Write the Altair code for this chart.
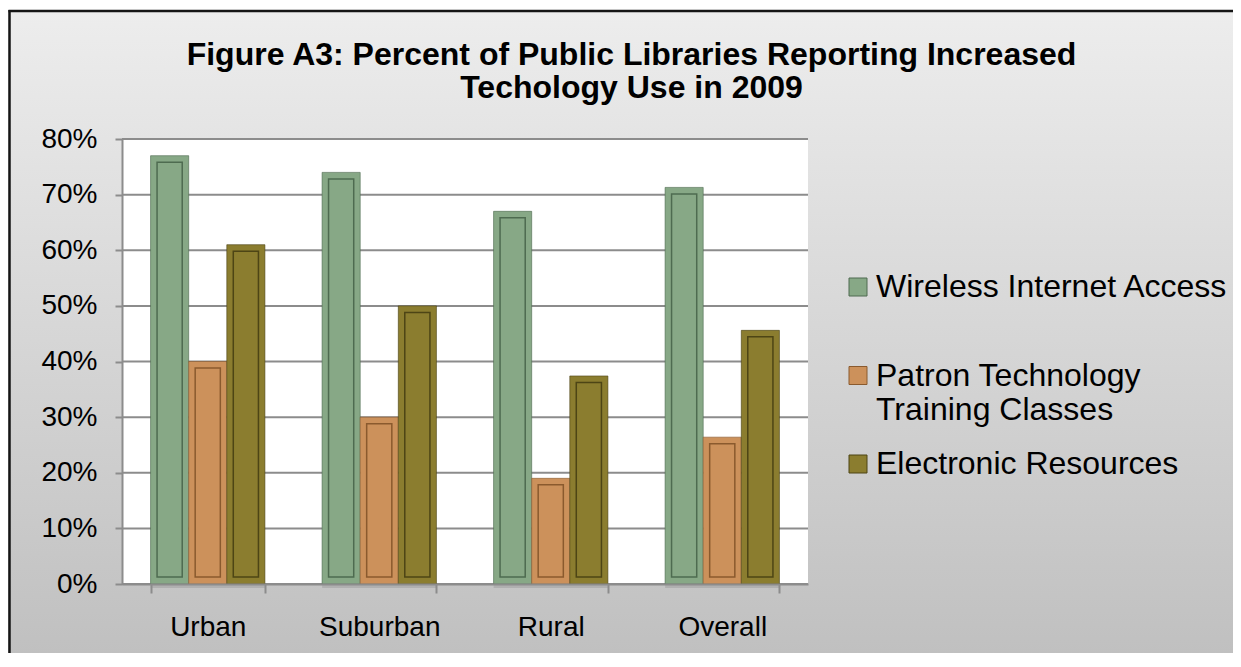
import altair as alt
import pandas as pd

# ---- data ----
categories = ["Urban", "Suburban", "Rural", "Overall"]
series = ["Wireless Internet Access", "Patron Technology Training Classes", "Electronic Resources"]
wireless = [77, 74, 67, 71.3]
patron = [40, 30, 19, 26.4]
electronic = [61, 50, 37.4, 45.6]
y_ticks = [0, 10, 20, 30, 40, 50, 60, 70, 80]
title_lines = ["Figure A3: Percent of Public Libraries Reporting Increased",
               "Techology Use in 2009"]

# ---- styling ----
fills = ["#87a886", "#cc915b", "#8b7d2f"]
darks = ["#4e6b50", "#8a5a2e", "#4d4515"]
FONT = "Liberation Sans"
GRID = "#8c8c8c"
BORDER = "#151515"
W, H = 686, 445
PAD_L, PAD_T, PAD_R, PAD_B = 114, 131, 425, 69
RIGHT = W + PAD_R          # right edge of the page area, plot coordinates
BOTTOM = H + PAD_B         # bottom edge of the page area, plot coordinates
P_IN, P_OUT, INNER = 1 / 3, 1 / 6, 0.66
step = W / (len(categories) - P_IN + 2 * P_OUT)
bw_x = step * (1 - P_IN)
shift = (1 - INNER) / 2 * (bw_x - bw_x / len(series))

rows = []
for s, vals in zip(series, [wireless, patron, electronic]):
    for c, v in zip(categories, vals):
        rows.append({"category": c, "series": s, "value": v, "zero": 0})
df = pd.DataFrame(rows)
grid_df = pd.DataFrame({"value": y_ticks})
one = pd.DataFrame({"k": [0]})

x_enc = alt.X(
    "category:N", sort=categories,
    scale=alt.Scale(paddingInner=P_IN, paddingOuter=P_OUT),
    axis=alt.Axis(title=None, labelAngle=0, labelFont=FONT, labelFontSize=28,
                  labelColor="black", labelPadding=20, tickSize=9, tickBand="extent",
                  tickColor=GRID, tickWidth=2, domainColor=GRID, domainWidth=2,
                  grid=False, zindex=1),
)
y_scale = alt.Scale(domain=[0, 80], nice=False)
y_enc = alt.Y(
    "value:Q", scale=y_scale,
    axis=alt.Axis(title=None, values=y_ticks, labelExpr="datum.value + '%'",
                  labelFont=FONT, labelFontSize=28, labelColor="black",
                  labelPadding=18, tickSize=7, tickColor=GRID, tickWidth=2,
                  domainColor=GRID, domainWidth=2, grid=False, zindex=1),
)
y2_enc = alt.Y2("zero:Q")
xoff = alt.XOffset("series:N", sort=series, scale=alt.Scale(paddingInner=0, paddingOuter=0))
xoff_inner = alt.XOffset("series:N", sort=series,
                         scale=alt.Scale(paddingInner=0, paddingOuter=0,
                                         range=[-shift, bw_x - shift]))
stroke_enc = alt.Stroke("series:N", sort=series,
                        scale=alt.Scale(domain=series, range=darks), legend=None)
color_enc = alt.Color(
    "series:N", sort=series,
    scale=alt.Scale(domain=series, range=fills),
    legend=alt.Legend(
        title=None, orient="none", direction="vertical", legendX=720, legendY=132,
        labelFont=FONT, labelFontSize=32, labelColor="black", labelLimit=600,
        labelOffset=2, symbolType="square", symbolSize=324,
        symbolStrokeColor="#5a5a5a", symbolStrokeWidth=1, symbolOpacity=1,
        rowPadding=22.5, gridAlign="all", padding=0, zindex=1,
        labelExpr="datum.label == 'Patron Technology Training Classes' ? "
                  "['Patron Technology', 'Training Classes'] : datum.label",
    ),
)

background = alt.Chart(one).mark_rect(
    fill=alt.LinearGradient(
        gradient="linear", x1=0, x2=0, y1=0, y2=1,
        stops=[alt.GradientStop(color="#ededed", offset=0),
               alt.GradientStop(color="#c0c0c0", offset=1)],
    ),
    strokeWidth=0,
).encode(x=alt.value(-PAD_L), x2=alt.value(RIGHT), y=alt.value(-128), y2=alt.value(BOTTOM))

border_left = alt.Chart(one).mark_rule(color=BORDER, strokeWidth=2.5).encode(
    x=alt.value(-112.5), y=alt.value(-129), y2=alt.value(BOTTOM))
border_top = alt.Chart(one).mark_rule(color=BORDER, strokeWidth=2.5).encode(
    x=alt.value(-113.5), x2=alt.value(RIGHT), y=alt.value(-128))

plot_bg = alt.Chart(one).mark_rect(color="white").encode(
    x=alt.value(0), x2=alt.value(W), y=alt.value(0), y2=alt.value(H))

grid = alt.Chart(grid_df).mark_rule(color=GRID, strokeWidth=2).encode(y=y_enc)

shadow = alt.Chart(df).mark_bar(color="black", opacity=0.1, y2Offset=4).encode(
    x=x_enc, xOffset=xoff, y=y_enc, y2=y2_enc)

bars = alt.Chart(df).mark_bar(strokeWidth=1, strokeOpacity=0.6).encode(
    x=x_enc, xOffset=xoff, y=y_enc, y2=y2_enc, color=color_enc, stroke=stroke_enc)

inner = alt.Chart(df).mark_bar(
    filled=False, strokeWidth=1.5, width=alt.RelativeBandSize(INNER),
    yOffset=6.5, y2Offset=-7,
).encode(x=x_enc, xOffset=xoff_inner, y=y_enc, y2=y2_enc, stroke=stroke_enc)

title = alt.Chart(one).mark_text(
    text=title_lines, font=FONT, fontSize=32, fontWeight="bold", color="black",
    align="center", baseline="alphabetic", lineHeight=33,
).encode(x=alt.value(509.5), y=alt.value(-74))

chart = alt.layer(
    background, border_left, border_top, plot_bg, grid, shadow, bars, inner, title
).resolve_scale(xOffset="independent").properties(
    width=W, height=H,
    autosize=alt.AutoSizeParams(type="none"),
    padding={"left": PAD_L, "top": PAD_T, "right": PAD_R, "bottom": PAD_B},
).configure_view(strokeWidth=0).configure(background="white")

chart.save("out.html", embed_options={"renderer": "svg", "actions": False})
